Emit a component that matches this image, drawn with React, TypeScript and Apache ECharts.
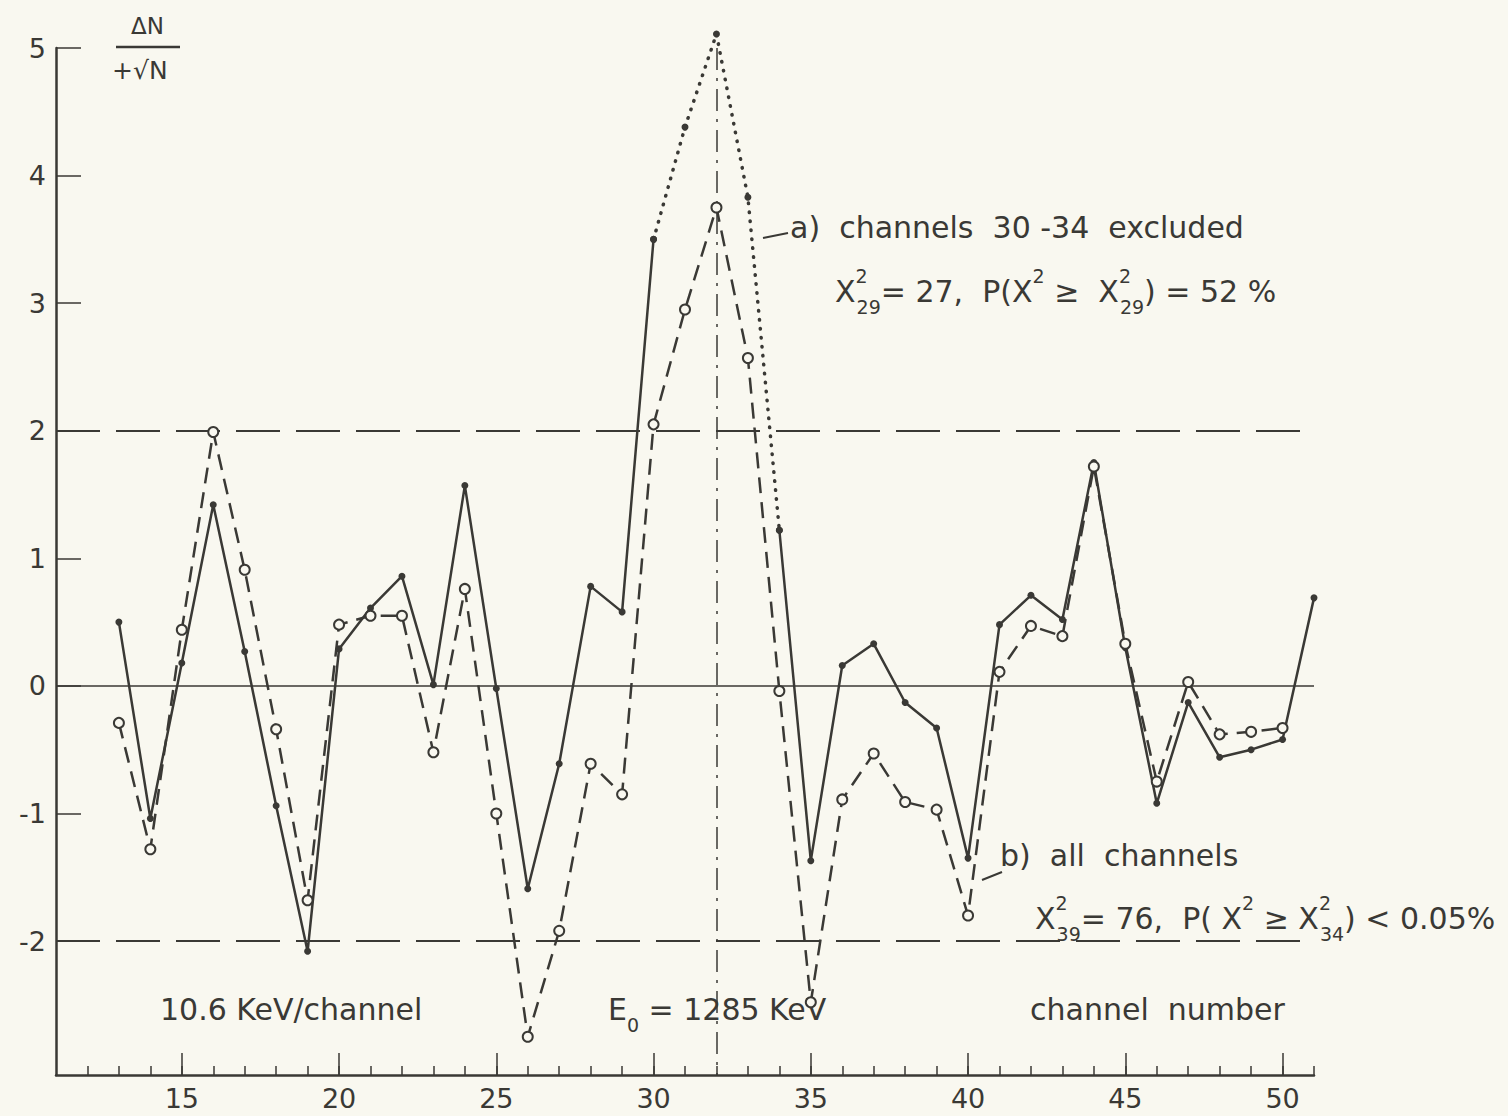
import React, { useEffect, useRef } from "react";
import * as echarts from "echarts";

// ---- data ----
const channels = [13, 14, 15, 16, 17, 18, 19, 20, 21, 22, 23, 24, 25, 26, 27, 28, 29, 30, 31, 32, 33, 34, 35, 36, 37, 38, 39, 40, 41, 42, 43, 44, 45, 46, 47, 48, 49, 50, 51];
// a) channels 30-34 excluded (solid line, filled dots); 31-33 drawn dotted
const excludedFit = [0.5, -1.04, 0.18, 1.42, 0.27, -0.94, -2.08, 0.29, 0.61, 0.86, 0.01, 1.57, -0.02, -1.59, -0.61, 0.78, 0.58, 3.5, null, null, null, 1.22, -1.37, 0.16, 0.33, -0.13, -0.33, -1.35, 0.48, 0.71, 0.52, 1.75, 0.3, -0.92, -0.13, -0.56, -0.5, -0.42, 0.69];
const peakChannels = [30, 31, 32, 33, 34];
const peakValues = [3.5, 4.38, 5.11, 3.83, 1.22];
// b) all channels (dashed line, open circles)
const allFit = [-0.29, -1.28, 0.44, 1.99, 0.91, -0.34, -1.68, 0.48, 0.55, 0.55, -0.52, 0.76, -1.0, -2.75, -1.92, -0.61, -0.85, 2.05, 2.95, 3.75, 2.57, -0.04, -2.48, -0.89, -0.53, -0.91, -0.97, -1.8, 0.11, 0.47, 0.39, 1.72, 0.33, -0.75, 0.03, -0.38, -0.36, -0.33, null];
const yTicks = [-2, -1, 0, 1, 2, 3, 4, 5];
const xMajorTicks = [15, 20, 25, 30, 35, 40, 45, 50];
const xMinorTicks = [12, 13, 14, 15, 16, 17, 18, 19, 20, 21, 22, 23, 24, 25, 26, 27, 28, 29, 30, 31, 32, 33, 34, 35, 36, 37, 38, 39, 40, 41, 42, 43, 44, 45, 46, 47, 48, 49, 50, 51];
const peakChannel = 32;

const ink = "#3a3935";
const bg = "#f9f8f0";
const font = "DejaVu Sans";

export default function App() {
  const ref = useRef<HTMLDivElement>(null);
  useEffect(() => {
    const chart = echarts.init(ref.current!, null, { renderer: "svg" });
    const xMin = 11, xMax = 51, yMin = -3.05, yMax = 5;
    const rich = {
      n: { fontSize: 30, fontFamily: font, color: ink, lineHeight: 50 },
      sp: { fontSize: 19, fontFamily: font, color: ink, lineHeight: 20, verticalAlign: "top", width: 1 },
      sq: { fontSize: 19, fontFamily: font, color: ink, lineHeight: 20, verticalAlign: "top" },
      sb: { fontSize: 19, fontFamily: font, color: ink, lineHeight: 20, verticalAlign: "bottom" },
    };
    const txt = (x: number, y: number, text: string) => ({
      type: "text",
      left: x,
      top: y,
      style: { text, rich, fill: ink, font: `30px ${font}`, verticalAlign: "middle" },
    });
    const option: any = {
      animation: false,
      backgroundColor: bg,
      grid: { left: 56, right: 194, top: 48, bottom: 1116 - 1075 },
      xAxis: [
        {
          type: "value", min: xMin, max: xMax,
          axisLine: { show: true, onZero: false, lineStyle: { color: ink, width: 2.5 } },
          axisTick: { show: true, inside: true, length: 22, customValues: xMajorTicks, lineStyle: { color: ink, width: 1.5 } },
          axisLabel: { show: true, customValues: xMajorTicks, margin: 10, fontSize: 27, color: ink, fontFamily: font },
          splitLine: { show: false },
        },
        {
          type: "value", min: xMin, max: xMax, position: "bottom",
          axisLine: { show: false, onZero: false },
          axisTick: { show: true, inside: true, length: 9, customValues: xMinorTicks, lineStyle: { color: ink, width: 1.5 } },
          axisLabel: { show: false },
          splitLine: { show: false },
        },
      ],
      yAxis: {
        type: "value", min: yMin, max: yMax,
        axisLine: { show: true, onZero: false, lineStyle: { color: ink, width: 2.5 } },
        axisTick: { show: true, inside: true, length: 25, customValues: yTicks, lineStyle: { color: ink, width: 1.5 } },
        axisLabel: { show: true, customValues: yTicks, margin: 10, fontSize: 27, color: ink, fontFamily: font },
        splitLine: { show: false },
      },
      series: [
        {
          name: "a) channels 30-34 excluded",
          type: "line",
          xAxisIndex: 0,
          data: channels.map((c, i) => [c, excludedFit[i] === null ? "-" : excludedFit[i]]),
          symbol: "circle",
          symbolSize: 7,
          itemStyle: { color: ink },
          lineStyle: { color: ink, width: 2.5 },
          z: 4,
          markLine: {
            silent: true,
            symbol: ["none", "none"],
            label: { show: false },
            data: [
              { yAxis: 0, lineStyle: { type: "solid", width: 1.5, color: ink } },
              { yAxis: 2, lineStyle: { type: [44, 16], width: 2, color: ink } },
              { yAxis: -2, lineStyle: { type: [44, 16], width: 2, color: ink } },
              [
                { coord: [peakChannel, yMax], lineStyle: { type: [22, 8, 3, 8], width: 1.5, color: ink } },
                { coord: [peakChannel, yMin] },
              ],
            ],
          },
        },
        {
          name: "peak (excluded channels)",
          type: "line",
          xAxisIndex: 0,
          data: peakChannels.map((c, i) => [c, peakValues[i]]),
          symbol: "circle",
          symbolSize: 7,
          clip: false,
          itemStyle: { color: ink },
          lineStyle: { color: ink, width: 3.5, type: [0.5, 8.5], cap: "round" },
          z: 3,
        },
        {
          name: "b) all channels",
          type: "line",
          xAxisIndex: 0,
          data: channels.map((c, i) => [c, allFit[i] === null ? "-" : allFit[i]]),
          symbol: "circle",
          symbolSize: 10,
          clip: false,
          itemStyle: { color: bg, borderColor: ink, borderWidth: 2 },
          lineStyle: { color: ink, width: 2.5, type: [16, 9] },
          z: 5,
        },
      ],
      graphic: [
        { type: "text", left: 131, top: 14, style: { text: "ΔN", font: `23px ${font}`, fill: ink } },
        { type: "line", shape: { x1: 116, y1: 47, x2: 180, y2: 47 }, style: { stroke: ink, lineWidth: 2.5 } },
        { type: "text", left: 112, top: 58, style: { text: "+√N", font: `25px ${font}`, fill: ink } },
        { type: "line", shape: { x1: 763, y1: 238, x2: 788, y2: 233 }, style: { stroke: ink, lineWidth: 2 } },
        txt(790, 212, "{n|a)  channels  30 -34  excluded}"),
        txt(835, 266, "{n|X}{sp|2}{sb|29}{n|= 27,  P(X}{sq|2}{n| ≥  X}{sp|2}{sb|29}{n|) = 52 %}"),
        { type: "line", shape: { x1: 982, y1: 880, x2: 1002, y2: 872 }, style: { stroke: ink, lineWidth: 2 } },
        txt(1000, 840, "{n|b)  all  channels}"),
        txt(1035, 893, "{n|X}{sp|2}{sb|39}{n|= 76,  P( X}{sq|2}{n| ≥ X}{sp|2}{sb|34}{n|) < 0.05%}"),
        txt(160, 994, "{n|10.6 KeV/channel}"),
        txt(608, 994, "{n|E}{sb|0}{n| = 1285 KeV}"),
        txt(1030, 994, "{n|channel  number}"),
      ],
    };
    chart.setOption(option);
    return () => chart.dispose();
  }, []);
  return (
    <div
      ref={ref}
      style={{ position: "absolute", left: 0, top: 0, width: 1508, height: 1116, background: bg }}
    />
  );
}
